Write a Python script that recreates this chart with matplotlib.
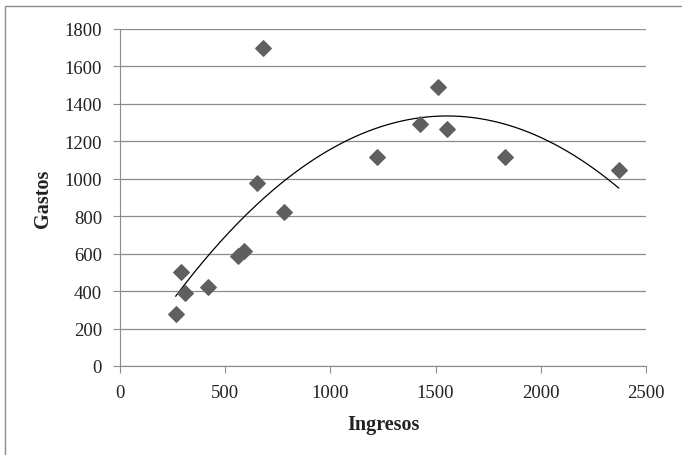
import numpy as np
import matplotlib.pyplot as plt
from matplotlib.patches import Rectangle

# ingresos vs gastos
ingresos = [265, 290, 310, 420, 560, 590, 650, 680, 780, 1220, 1425, 1510, 1555, 1830, 2370]
gastos = [280, 500, 390, 420, 590, 615, 980, 1700, 825, 1115, 1295, 1490, 1265, 1115, 1045]
xticks = [0, 500, 1000, 1500, 2000, 2500]
yticks = [0, 200, 400, 600, 800, 1000, 1200, 1400, 1600, 1800]

plt.rcParams['font.family'] = ['Liberation Serif', 'DejaVu Serif']

fig = plt.figure(figsize=(6.82, 4.56), dpi=100)
ax = fig.add_axes([120 / 682, 1 - 367 / 456, 526 / 682, 337 / 456])

# chart area border (only left and top edges show in the crop)
fig.patches.append(Rectangle((5 / 682, -0.05), 1.1, 1 - 7 / 456 + 0.05, transform=fig.transFigure,
                             fill=False, edgecolor='#8c8c8c', linewidth=1))

ax.scatter(ingresos, gastos, marker='D', s=62, color='#5f5f5f', zorder=3)

# polynomial trendline (order 2)
coef = np.polyfit(ingresos, gastos, 2)
xs = np.linspace(min(ingresos), max(ingresos), 200)
ax.plot(xs, np.polyval(coef, xs), color='black', linewidth=0.9, zorder=2)

ax.set_xlim(0, 2500)
ax.set_ylim(0, 1800)
ax.set_xticks(xticks)
ax.set_yticks(yticks)
ax.yaxis.grid(True, color='#8c8c8c', linewidth=0.9)
ax.set_axisbelow(True)

for s in ['top', 'right']:
    ax.spines[s].set_visible(False)
for s in ['left', 'bottom']:
    ax.spines[s].set_color('#8c8c8c')
ax.tick_params(axis='both', colors='#8c8c8c', labelcolor='#222222', labelsize=13.5, length=5)
ax.tick_params(axis='x', pad=8)
ax.tick_params(axis='y', pad=8)

ax.set_xlabel('Ingresos', fontsize=14.5, fontweight='bold', labelpad=9, color='#222222')
ax.set_ylabel('Gastos', fontsize=14.5, fontweight='bold', labelpad=8, color='#222222')

fig.savefig('out.png', dpi=100)
